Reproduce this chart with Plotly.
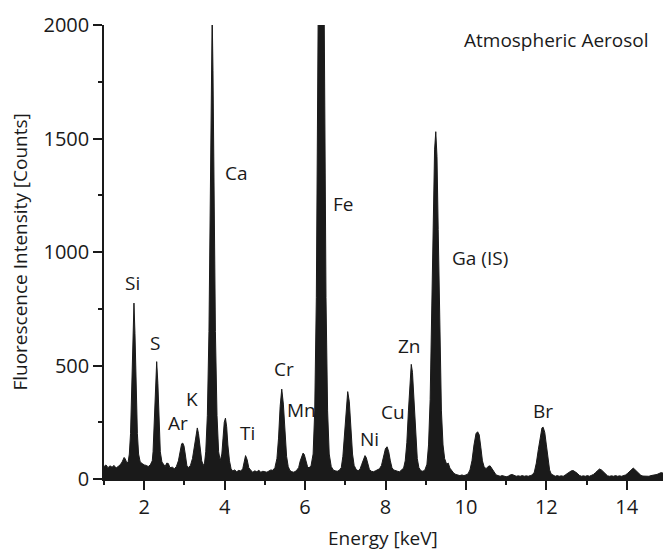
import plotly.graph_objects as go

# Spectrum outline: energy [keV] and counts
energy = [
    1.00, 1.05, 1.10, 1.15, 1.20, 1.25, 1.30, 1.35, 1.40, 1.45, 1.50, 1.53, 1.57, 1.60,
    1.63, 1.66, 1.69, 1.72, 1.745, 1.77, 1.80, 1.83, 1.86, 1.90, 1.95, 2.00, 2.05, 2.10, 2.15, 2.20,
    2.22, 2.25, 2.28, 2.31, 2.34, 2.37, 2.40, 2.44, 2.48, 2.52, 2.56, 2.60, 2.64, 2.70, 2.75, 2.80, 2.85,
    2.89, 2.93, 2.96, 2.99, 3.02, 3.06, 3.10, 3.15,
    3.20, 3.25, 3.29, 3.32, 3.35, 3.39, 3.43, 3.47, 3.50,
    3.53, 3.57, 3.61, 3.64, 3.67, 3.69, 3.71, 3.74, 3.77, 3.81, 3.85, 3.89, 3.93,
    3.96, 3.99, 4.02, 4.05, 4.08, 4.12, 4.16, 4.20, 4.25, 4.30, 4.35, 4.40, 4.45,
    4.48, 4.52, 4.56, 4.60, 4.65, 4.70, 4.75, 4.80, 4.85, 4.90, 4.95, 5.00, 5.05, 5.10, 5.15, 5.20, 5.25,
    5.30, 5.34, 5.38, 5.42, 5.46, 5.50, 5.54, 5.58, 5.62, 5.67, 5.72, 5.78, 5.84,
    5.88, 5.92, 5.95, 5.98, 6.02, 6.06, 6.10, 6.15,
    6.20, 6.24, 6.28, 6.31, 6.33, 6.36, 6.40, 6.44, 6.47, 6.49, 6.52, 6.56, 6.60, 6.65, 6.70, 6.75, 6.80, 6.85, 6.90,
    6.94, 6.98, 7.02, 7.06, 7.10, 7.14, 7.18, 7.22, 7.27, 7.32, 7.37,
    7.41, 7.45, 7.49, 7.52, 7.56, 7.60, 7.65, 7.70, 7.75, 7.80, 7.85, 7.90,
    7.95, 8.00, 8.04, 8.08, 8.12, 8.16, 8.20, 8.25, 8.30, 8.35, 8.40, 8.45,
    8.49, 8.53, 8.57, 8.61, 8.64, 8.67, 8.71, 8.75, 8.79, 8.83, 8.88, 8.93, 8.98, 9.03,
    9.07, 9.11, 9.15, 9.19, 9.22, 9.25, 9.28, 9.31, 9.35, 9.39, 9.43, 9.47, 9.52, 9.56, 9.60, 9.65, 9.70,
    9.75, 9.80, 9.85, 9.90, 9.95, 10.00, 10.05, 10.10,
    10.15, 10.20, 10.25, 10.29, 10.33, 10.37, 10.41, 10.45, 10.50, 10.55, 10.60, 10.65, 10.70, 10.75,
    10.80, 10.85, 10.90, 10.95, 11.00, 11.05, 11.10, 11.15, 11.20, 11.25, 11.30, 11.35, 11.40, 11.45,
    11.50, 11.55, 11.60, 11.65, 11.70,
    11.75, 11.80, 11.85, 11.89, 11.92, 11.96, 12.00, 12.04, 12.08, 12.12, 12.17, 12.22, 12.27, 12.32,
    12.37, 12.42, 12.47, 12.52, 12.57, 12.62, 12.67, 12.72, 12.77, 12.82, 12.87, 12.92, 12.97, 13.02,
    13.07, 13.12, 13.17, 13.22, 13.27, 13.32, 13.37, 13.42, 13.47, 13.52, 13.57, 13.62, 13.67, 13.72,
    13.77, 13.82, 13.87, 13.92, 13.97, 14.02, 14.07, 14.12, 14.16, 14.20, 14.25, 14.30, 14.35, 14.40,
    14.45, 14.50, 14.55, 14.60, 14.65, 14.70, 14.75, 14.80, 14.85, 14.90,
]
counts = [
    55, 62, 50, 58, 52, 60, 48, 55, 62, 75, 95, 88, 70, 75,
    110, 200, 390, 640, 775, 640, 390, 200, 110, 75, 68, 62, 60, 55, 62, 80,
    120, 250, 430, 517, 420, 240, 120, 75, 62, 55, 70, 68, 50, 52, 45, 55, 80,
    120, 155, 158, 145, 110, 60, 50, 60,
    90, 150, 210, 225, 200, 130, 80, 60, 70,
    120, 280, 650, 1150, 1800, 2050, 1800, 1150, 650, 280, 120, 80, 110,
    180, 250, 268, 230, 150, 80, 45, 35, 40, 32, 38, 35, 45,
    75, 103, 85, 50, 38, 30, 36, 32, 38, 30, 34, 32, 30, 35, 40, 38, 50,
    90, 180, 320, 396, 330, 190, 100, 55, 38, 32, 30, 36, 50,
    80, 105, 114, 108, 80, 55, 48, 60,
    110, 300, 800, 1500, 2200, 3000, 3400, 3000, 2200, 1500, 800, 300, 110, 55, 40, 36, 34, 38, 50,
    100, 200, 330, 385, 340, 210, 110, 60, 42, 36, 45,
    65, 90, 103, 95, 65, 42, 34, 32, 36, 40, 45, 60,
    95, 135, 142, 120, 80, 50, 40, 36, 34, 32, 38, 48,
    80, 160, 300, 450, 505, 470, 340, 190, 90, 50, 36, 34, 40, 65,
    150, 350, 700, 1150, 1450, 1530, 1420, 1100, 650, 300, 150, 90, 65, 70, 48, 35, 25,
    20, 18, 15, 18, 15, 18, 22, 40,
    80, 150, 200, 208, 195, 140, 80, 55, 45, 55, 58, 45, 28, 18,
    15, 12, 15, 12, 10, 12, 18, 20, 15, 12, 14, 12, 15, 12,
    14, 12, 15, 18, 30,
    70, 130, 195, 225, 228, 205, 150, 85, 40, 22, 15, 12, 15, 12,
    14, 12, 18, 25, 30, 36, 37, 32, 25, 16, 12, 14, 12, 15,
    12, 16, 20, 28, 38, 44, 40, 30, 20, 14, 12, 14, 12, 15,
    12, 14, 12, 15, 18, 25, 35, 44, 48, 42, 32, 22, 16, 13,
    12, 14, 12, 15, 16, 18, 20, 24, 28, 26,
]

# Peak labels and where they sit (energy, counts)
peak_labels = ["Si", "S", "Ar", "K", "Ca", "Ti", "Cr", "Mn", "Fe", "Ni", "Cu", "Zn", "Ga (IS)", "Br"]
label_energy = [1.70, 2.27, 2.83, 3.19, 4.30, 4.58, 5.47, 5.91, 6.94, 7.61, 8.18, 8.60, 10.34, 11.91]
label_counts = [863, 599, 248, 352, 1348, 203, 484, 304, 1211, 176, 296, 587, 974, 300]

x_ticks = [2, 4, 6, 8, 10, 12, 14]
y_ticks = [0, 500, 1000, 1500, 2000]

FONT = "Open Sans"
INK = "#1a1a1a"

fig = go.Figure()
fig.add_trace(go.Scatter(
    x=energy, y=counts, mode="lines", fill="tozeroy",
    line=dict(color="#1a1a1a", width=1), fillcolor="#1a1a1a",
    hoverinfo="skip", showlegend=False,
))

for lab, ex, cy in zip(peak_labels, label_energy, label_counts):
    fig.add_annotation(x=ex, y=cy, text=lab, showarrow=False,
                       font=dict(family=FONT, size=19, color=INK),
                       xanchor="center", yanchor="middle")

fig.add_annotation(x=0.9785, xref="paper", y=1934, yref="y", text="Atmospheric Aerosol",
                   showarrow=False, xanchor="right", yanchor="middle",
                   font=dict(family=FONT, size=19, color=INK))

fig.add_annotation(x=0.499, xref="paper", y=-0.13, yref="paper", text="Energy [keV]",
                   showarrow=False, xanchor="center", yanchor="middle",
                   font=dict(family=FONT, size=19, color=INK))
fig.add_annotation(x=-0.151, xref="paper", y=0.5, yref="paper",
                   text="Fluorescence Intensity [Counts]", textangle=-90,
                   showarrow=False, xanchor="center", yanchor="middle",
                   font=dict(family=FONT, size=19, color=INK))

fig.update_xaxes(range=[1, 14.9], tickvals=x_ticks, ticks="outside", ticklen=9,
                 tickwidth=1.5, tickcolor=INK, showline=True, linecolor=INK, linewidth=1.5,
                 showgrid=False, zeroline=False,
                 minor=dict(dtick=1, tick0=1, ticks="outside", ticklen=4, tickcolor=INK, tickwidth=1.5),
                 tickfont=dict(family=FONT, size=20, color=INK))
fig.update_yaxes(range=[0, 2000], tickvals=y_ticks, ticks="outside", ticklen=9,
                 tickwidth=1.5, tickcolor=INK, showline=True, linecolor=INK, linewidth=1.5,
                 showgrid=False, zeroline=False,
                 minor=dict(dtick=250, tick0=0, ticks="outside", ticklen=4, tickcolor=INK, tickwidth=1.5),
                 tickfont=dict(family=FONT, size=20, color=INK))

fig.update_layout(width=663, height=551, margin=dict(l=104, r=0, t=25, b=72),
                  plot_bgcolor="white", paper_bgcolor="white")

fig.write_html("out.html")
